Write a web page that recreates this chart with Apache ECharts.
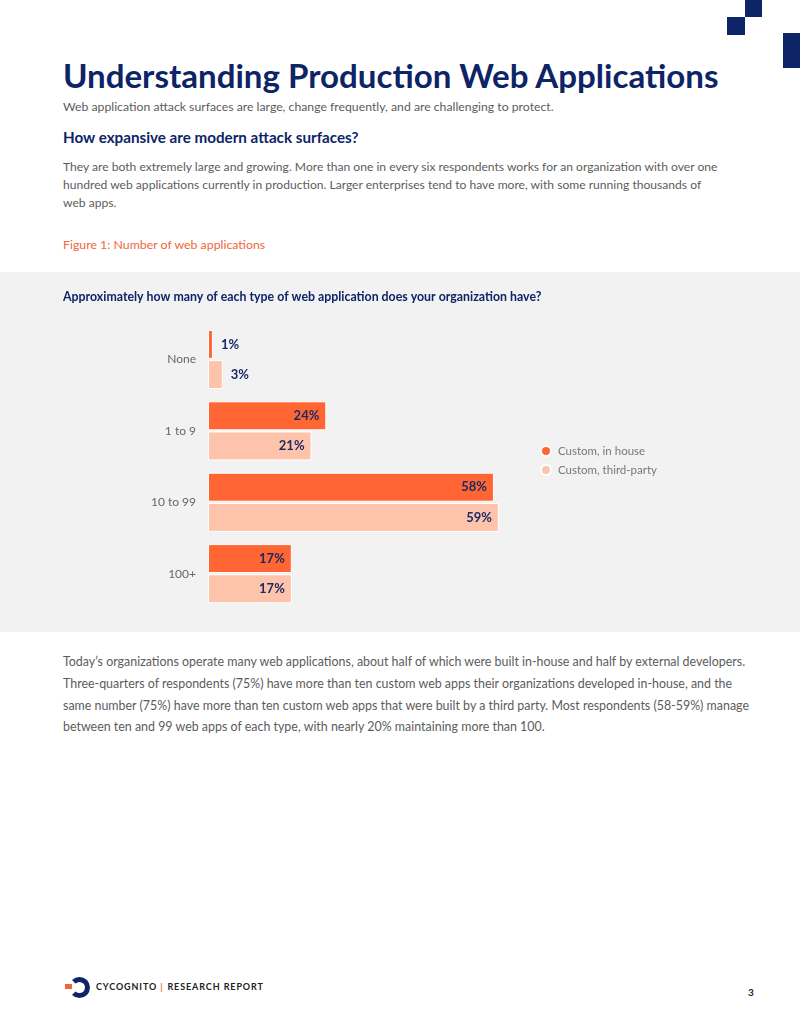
<!DOCTYPE html>
<html>
<head>
<meta charset="utf-8">
<script src="https://cdn.jsdelivr.net/npm/echarts@6/dist/echarts.min.js"></script>
<style>
body{margin:0;background:#fff;}
#page{position:relative;width:800px;height:1035px;overflow:hidden;font-family:Lato,sans-serif;}
.t{position:absolute;white-space:nowrap;}
.sq{position:absolute;background:#0d2467;}
#chart{position:absolute;left:0;top:272px;width:800px;height:360px;}
#foot{position:absolute;left:96px;top:980px;font:700 9px Lato,sans-serif;letter-spacing:0.9px;color:#222;line-height:14px;white-space:nowrap;}
#foot span{color:#f0673a;margin:0 4px 0 3px;font-weight:700;}
#pg{position:absolute;left:748px;top:985px;font:700 10px Lato,sans-serif;color:#222;line-height:14px;}
#ring{position:absolute;left:69px;top:977px;width:11px;height:11px;border:5px solid #0d2467;border-left-color:transparent;border-radius:50%;}
#dot{position:absolute;left:65px;top:984px;width:7px;height:5px;background:#f0673a;}
</style>
</head>
<body>
<div id="page">
  <div class="sq" style="left:745px;top:0;width:17px;height:17px;"></div>
  <div class="sq" style="left:727px;top:17px;width:18px;height:18px;"></div>
  <div class="sq" style="left:783px;top:33px;width:17px;height:35px;"></div>
  <div id="chart"></div>
  <div id="ring"></div><div id="dot"></div>
  <div id="foot">CYCOGNITO<span>|</span>RESEARCH REPORT</div>
  <div id="pg">3</div>
</div>
<script>
// chart data
var categories = ['None', '1 to 9', '10 to 99', '100+'];
var seriesNames = ['Custom, in house', 'Custom, third-party'];
var inHouse = [1, 24, 58, 17];
var thirdParty = [3, 21, 59, 17];

var navy = '#0d2467';
var grey = '#5c5c5c';

// page text
var blocks = [
  {lines: ['Understanding Production Web Applications'], y: 75, lh: 40, w: 657, wt: 700, c: navy},
  {lines: ['Web application attack surfaces are large, change frequently, and are challenging to protect.'], y: 107, lh: 18, w: 491, wt: 400, c: grey},
  {lines: ['How expansive are modern attack surfaces?'], y: 137, lh: 20, w: 296, wt: 700, c: navy},
  {lines: ['They are both extremely large and growing. More than one in every six respondents works for an organization with over one',
           'hundred web applications currently in production. Larger enterprises tend to have more, with some running thousands of',
           'web apps.'], y: 167, lh: 18, w: 657, wt: 400, c: grey},
  {lines: ['Figure 1: Number of web applications'], y: 245, lh: 16, w: 203, wt: 400, c: '#f0673a'},
  {lines: ['Today\u2019s organizations operate many web applications, about half of which were built in-house and half by external developers.',
           'Three-quarters of respondents (75%) have more than ten custom web apps their organizations developed in-house, and the',
           'same number (75%) have more than ten custom web apps that were built by a third party. Most respondents (58-59%) manage',
           'between ten and 99 web apps of each type, with nearly 20% maintaining more than 100.'], y: 662, lh: 21.7, w: 685, wt: 400, c: grey}
];

var ctx = document.createElement('canvas').getContext('2d');
function fitSize(txt, wt, w) {
  ctx.font = wt + ' 100px Lato';
  return 100 * w / ctx.measureText(txt).width;
}

var page = document.getElementById('page');
blocks.forEach(function(b) {
  var fs = fitSize(b.lines[0], b.wt, b.w);
  b.lines.forEach(function(s, i) {
    var d = document.createElement('div');
    d.className = 't';
    d.textContent = s;
    d.style.left = '63px';
    d.style.top = (b.y + i * b.lh - b.lh / 2) + 'px';
    d.style.lineHeight = b.lh + 'px';
    d.style.fontSize = fs + 'px';
    d.style.fontWeight = b.wt;
    d.style.color = b.c;
    page.appendChild(d);
  });
});

function toData(vals) {
  return vals.map(function(v) {
    return {value: v, label: {position: v < 5 ? 'right' : 'insideRight', distance: v < 5 ? 8 : 7}};
  });
}

var question = 'Approximately how many of each type of web application does your organization have?';

var myChart = echarts.init(document.getElementById('chart'));
var option = {
  backgroundColor: '#f2f2f2',
  animation: false,
  title: {
    text: question,
    left: 58,
    top: 12,
    textStyle: {fontFamily: 'Lato', fontWeight: 700, fontSize: fitSize(question, 700, 479), color: navy, lineHeight: 16}
  },
  legend: {
    data: seriesNames,
    orient: 'vertical',
    left: 535,
    top: 168,
    itemWidth: 14,
    itemHeight: 10,
    itemGap: 7,
    icon: 'circle',
    textStyle: {fontFamily: 'Lato', fontSize: 11.5, color: '#777'}
  },
  grid: {left: 208, top: 51.8, width: 493, height: 285.6},
  xAxis: {type: 'value', min: 0, max: 100, show: false},
  yAxis: {
    type: 'category',
    data: categories,
    inverse: true,
    axisLine: {show: false},
    axisTick: {show: false},
    axisLabel: {fontFamily: 'Lato', fontSize: 12, color: '#666', margin: 12}
  },
  series: [{
    name: seriesNames[0],
    type: 'bar',
    data: toData(inHouse),
    barWidth: 29,
    barGap: '4%',
    itemStyle: {color: '#ff6633', borderColor: '#fff', borderWidth: 1},
    label: {show: true, formatter: '{c}%', fontFamily: 'Lato', fontWeight: 700, fontSize: 13, color: '#1c2a64'}
  }, {
    name: seriesNames[1],
    type: 'bar',
    data: toData(thirdParty),
    barWidth: 29,
    itemStyle: {color: '#fdc3ab', borderColor: '#fff', borderWidth: 1},
    label: {show: true, formatter: '{c}%', fontFamily: 'Lato', fontWeight: 700, fontSize: 13, color: '#1c2a64'}
  }]
};
myChart.setOption(option);
</script>
</body>
</html>
